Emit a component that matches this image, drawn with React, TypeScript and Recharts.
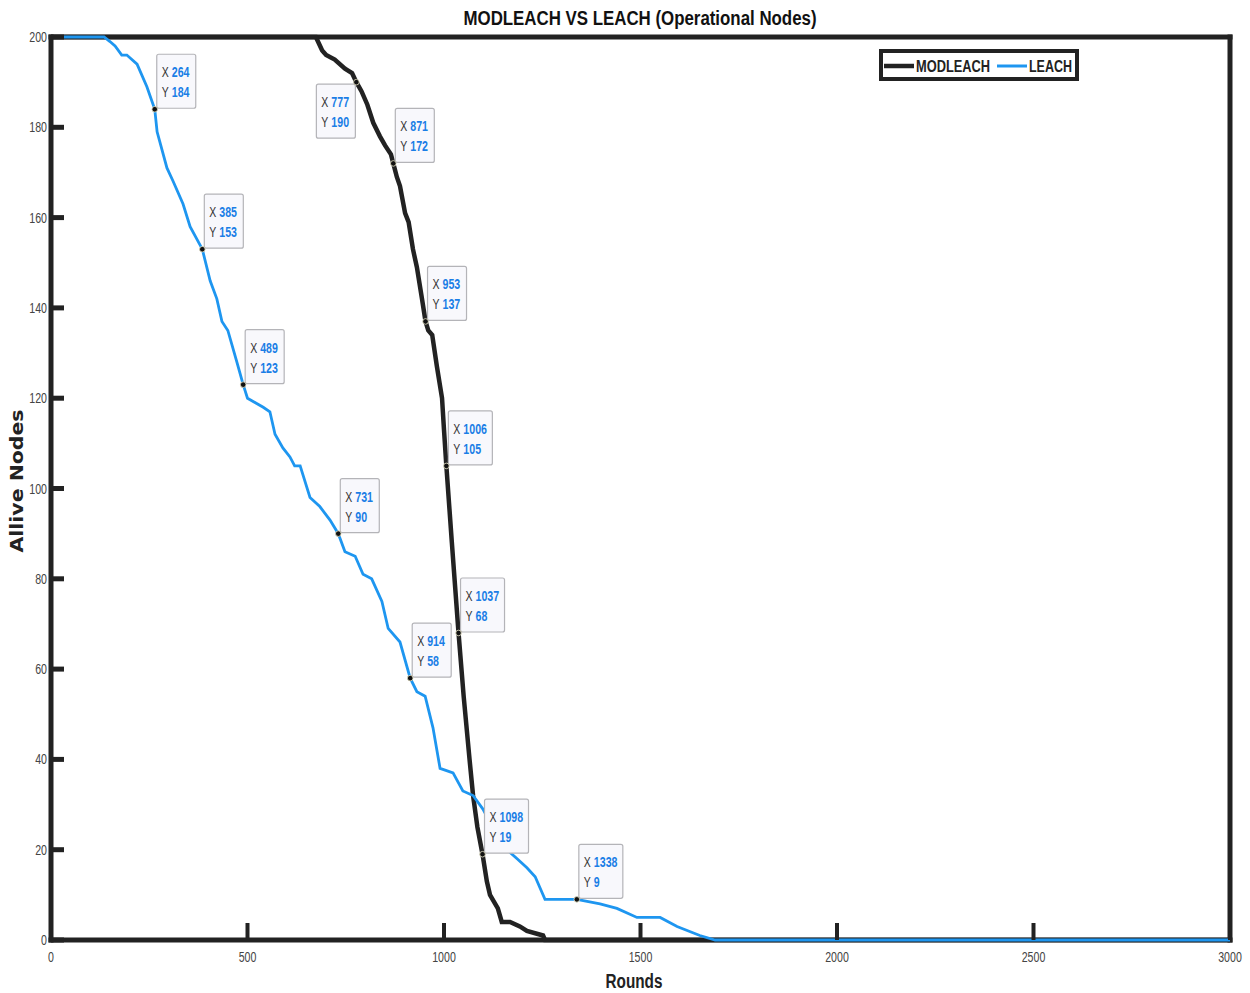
import { LineChart, Line, XAxis, YAxis, ReferenceDot, Legend } from "recharts";

// LEACH: rounds vs alive nodes
const leachRounds = [
  0, 135, 150, 163, 180, 193, 219, 244, 264, 270, 295, 311, 336, 354, 385, 405, 422, 435, 450, 473,
  489, 500, 520, 540, 557, 570, 590, 608, 620, 634, 659, 684, 710, 731, 748, 774, 794, 816, 842, 858,
  888, 914, 931, 952, 972, 990, 1023, 1048, 1074, 1099, 1130, 1160, 1186, 1211, 1232, 1257, 1338, 1397, 1440, 1491,
  1550, 1593, 1651, 1690, 3000,
];
const leachAlive = [
  200, 200, 199, 198, 196, 196, 194, 189, 184, 179, 171, 168, 163, 158, 153, 146, 142, 137, 135, 128,
  123, 120, 119, 118, 117, 112, 109, 107, 105, 105, 98, 96, 93, 90, 86, 85, 81, 80, 75, 69,
  66, 58, 55, 54, 47, 38, 37, 33, 32, 29, 24, 20, 18, 16, 14, 9, 9, 8, 7, 5,
  5, 3, 1, 0, 0,
];

// MODLEACH: rounds vs alive nodes
const modRounds = [
  0, 674, 690, 700, 722, 748, 766, 777, 790, 805, 820, 837, 850, 865, 871, 880, 888, 901, 910, 921,
  931, 944, 953, 960, 970, 982, 995, 1000, 1006, 1020, 1037, 1050, 1065, 1074, 1085, 1098, 1109, 1117, 1137, 1147,
  1168, 1193, 1211, 1252, 1257, 3000,
];
const modAlive = [
  200, 200, 197, 196, 195, 193, 192, 190, 188, 185, 181, 178, 176, 174, 172, 169, 167, 161, 159, 153,
  149, 142, 137, 135, 134, 127, 120, 113, 105, 88, 68, 54, 40, 32, 25, 19, 13, 10, 7, 4,
  4, 3, 2, 1, 0, 0,
];

// data tips shown on the curves
const tipRounds = [264, 385, 489, 731, 914, 1338, 777, 871, 953, 1006, 1037, 1098];
const tipAlive = [184, 153, 123, 90, 58, 9, 190, 172, 137, 105, 68, 19];

const xTicks = [0, 500, 1000, 1500, 2000, 2500, 3000];
const yTicks = [0, 20, 40, 60, 80, 100, 120, 140, 160, 180, 200];

const seriesNames = ["MODLEACH", "LEACH"];

const leachData = leachRounds.map((r, i) => ({ round: r, alive: leachAlive[i] }));
const modData = modRounds.map((r, i) => ({ round: r, alive: modAlive[i] }));

const INK = "#222";
const BLUE = "#1e96f0";
const TIP_BLUE = "#1a7ee6";
const FONT = '"Liberation Sans", Arial, sans-serif';

// the original uses a condensed face, so squeeze text to the measured widths
const digitsWidth = (v: number | string) => String(v).length * 5.9;

function LeftTick({ x, y, payload }: any) {
  return (
    <g>
      <line x1={x} y1={y} x2={x + 13} y2={y} stroke={INK} strokeWidth={5} />
      <text
        x={x - 4}
        y={y}
        dy={5}
        textAnchor="end"
        fontSize={14}
        fill="#444"
        fontFamily={FONT}
        textLength={digitsWidth(payload.value)}
        lengthAdjust="spacingAndGlyphs"
      >
        {payload.value}
      </text>
    </g>
  );
}

function RightTick({ x, y }: any) {
  return <line x1={x} y1={y} x2={x - 13} y2={y} stroke={INK} strokeWidth={5} />;
}

function BottomTick({ x, y, payload }: any) {
  return (
    <g>
      <line x1={x} y1={y} x2={x} y2={y - 17} stroke={INK} strokeWidth={4} />
      <text
        x={x}
        y={y + 22}
        textAnchor="middle"
        fontSize={14}
        fill="#444"
        fontFamily={FONT}
        textLength={digitsWidth(payload.value)}
        lengthAdjust="spacingAndGlyphs"
      >
        {payload.value}
      </text>
    </g>
  );
}

function TopTick({ x, y }: any) {
  return <line x1={x} y1={y} x2={x} y2={y + 17} stroke={INK} strokeWidth={4} />;
}

function TipRow({ x, y, label, value }: any) {
  return (
    <g>
      <text x={x} y={y} fontSize={14} fontFamily={FONT} fill="#333" textLength={7} lengthAdjust="spacingAndGlyphs">
        {label}
      </text>
      <text
        x={x + 10}
        y={y}
        fontSize={14}
        fontWeight="bold"
        fontFamily={FONT}
        fill={TIP_BLUE}
        textLength={digitsWidth(value)}
        lengthAdjust="spacingAndGlyphs"
      >
        {value}
      </text>
    </g>
  );
}

function DataTip({ cx, cy, xv, yv }: any) {
  const w = String(xv).length > 3 ? 44 : 39;
  const h = 54;
  // the 777 tip sits below-left of its point
  const below = xv === 777;
  const bx = below ? cx - w - 1 : cx + 2;
  const by = below ? cy + 2 : cy - h - 1;
  return (
    <g>
      <rect x={bx} y={by} width={w} height={h} rx={2} fill="#f8f8fc" stroke="#b4b4b8" strokeWidth={1.2} />
      <TipRow x={bx + 5} y={by + 23} label="X" value={xv} />
      <TipRow x={bx + 5} y={by + 43} label="Y" value={yv} />
      <circle cx={cx} cy={cy} r={2.8} fill="#111" stroke="#e8e6c8" strokeWidth={0.8} />
    </g>
  );
}

function LegendBox({ payload }: any) {
  const items = [...(payload || [])].sort(
    (a: any, b: any) => seriesNames.indexOf(a.value) - seriesNames.indexOf(b.value)
  );
  const textW: Record<string, number> = { MODLEACH: 74, LEACH: 43 };
  let cursor = 5;
  return (
    <svg width={200} height={32} style={{ position: "absolute", left: 0, top: 0, overflow: "visible" }}>
      <rect x={2} y={2} width={196} height={28} fill="#fff" stroke={INK} strokeWidth={4} />
      {items.map((entry: any) => {
        const x0 = cursor;
        const tw = textW[entry.value] ?? 50;
        cursor += 32 + tw + 7;
        return (
          <g key={entry.value}>
            <line
              x1={x0}
              y1={17}
              x2={x0 + 30}
              y2={17}
              stroke={entry.color}
              strokeWidth={entry.value === "MODLEACH" ? 4.5 : 3}
            />
            <text
              x={x0 + 32}
              y={23}
              fontSize={17}
              fontWeight="bold"
              fill={INK}
              fontFamily={FONT}
              textLength={tw}
              lengthAdjust="spacingAndGlyphs"
            >
              {entry.value}
            </text>
          </g>
        );
      })}
    </svg>
  );
}

export default function App() {
  const axisLine = { stroke: INK, strokeWidth: 5, strokeLinecap: "square" as const };
  return (
    <div style={{ position: "absolute", left: 0, top: 0, width: 1250, height: 993, background: "#fff" }}>
      <LineChart width={1250} height={993} margin={{ top: 36, right: 19, bottom: 52, left: 50 }}>
        <XAxis
          dataKey="round"
          type="number"
          domain={[0, 3000]}
          ticks={xTicks}
          height={1}
          tickSize={0}
          tickMargin={0}
          axisLine={axisLine}
          tick={<BottomTick />}
          allowDuplicatedCategory={false}
        />
        <XAxis
          xAxisId="top"
          orientation="top"
          dataKey="round"
          type="number"
          domain={[0, 3000]}
          ticks={xTicks}
          height={1}
          tickSize={0}
          tickMargin={0}
          axisLine={axisLine}
          tick={<TopTick />}
          allowDuplicatedCategory={false}
        />
        <YAxis
          type="number"
          domain={[0, 200]}
          ticks={yTicks}
          width={1}
          tickSize={0}
          tickMargin={0}
          axisLine={axisLine}
          tick={<LeftTick />}
        />
        <YAxis
          yAxisId="right"
          orientation="right"
          type="number"
          domain={[0, 200]}
          ticks={yTicks}
          width={1}
          tickSize={0}
          tickMargin={0}
          axisLine={axisLine}
          tick={<RightTick />}
        />
        <Legend
          content={<LegendBox />}
          wrapperStyle={{ left: 879, top: 49, width: 200, height: 0 }}
        />
        <Line
          data={modData}
          dataKey="alive"
          name="MODLEACH"
          type="linear"
          stroke={INK}
          strokeWidth={4.5}
          dot={false}
          activeDot={false}
          isAnimationActive={false}
          zIndex={600}
        />
        <Line
          data={leachData}
          dataKey="alive"
          name="LEACH"
          type="linear"
          stroke={BLUE}
          strokeWidth={2.8}
          dot={false}
          activeDot={false}
          isAnimationActive={false}
          zIndex={610}
        />
        {tipRounds.map((r, i) => (
          <ReferenceDot
            key={`tip-${r}`}
            x={r}
            y={tipAlive[i]}
            r={3}
            ifOverflow="visible"
            zIndex={700}
            shape={(p: any) => <DataTip cx={p.cx} cy={p.cy} xv={r} yv={tipAlive[i]} />}
          />
        ))}
      </LineChart>
      <svg
        width={1250}
        height={993}
        style={{ position: "absolute", left: 0, top: 0, pointerEvents: "none" }}
      >
        <text
          x={640}
          y={25}
          textAnchor="middle"
          fontSize={20}
          fontWeight="bold"
          fill="#111"
          fontFamily={FONT}
          textLength={353}
          lengthAdjust="spacingAndGlyphs"
        >
          MODLEACH VS LEACH (Operational Nodes)
        </text>
        <text
          x={634}
          y={988}
          textAnchor="middle"
          fontSize={20}
          fontWeight="bold"
          fill="#222"
          fontFamily={FONT}
          textLength={57}
          lengthAdjust="spacingAndGlyphs"
        >
          Rounds
        </text>
        <text
          x={0}
          y={0}
          transform="translate(23 481) rotate(-90)"
          textAnchor="middle"
          fontSize={18}
          fontWeight="bold"
          fill="#222"
          fontFamily='"DejaVu Sans", Arial, sans-serif'
          textLength={143}
          lengthAdjust="spacingAndGlyphs"
        >
          Allive Nodes
        </text>
      </svg>
    </div>
  );
}
